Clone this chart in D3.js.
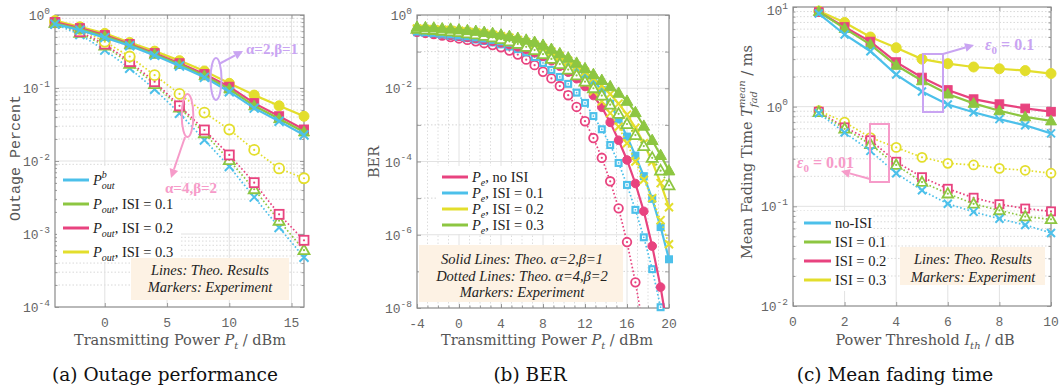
<!DOCTYPE html>
<html>
<head>
<meta charset="utf-8">
<script src="https://cdn.jsdelivr.net/npm/d3@7"></script>
<style>
  body { margin: 0; background: #fff; }
  svg { display: block; }
</style>
</head>
<body>
<svg id="chart" width="1062" height="392"></svg>
<script>
// series colours
const BLUE = "#4cc0ea", GREEN = "#8dc641", PINK = "#e8437f", YELLOW = "#e3de2c";
const NOTE_PURPLE = "#c9a4f2", NOTE_PINK = "#f69bc9";

// ---------- (a) outage performance ----------
const outagePower = [-4, -2, 0, 2, 4, 6, 8, 10, 12, 14, 16];
// solid: alpha=2, beta=1
const outBaseA2 = [0.75, 0.62, 0.49, 0.38, 0.28, 0.20, 0.14, 0.089, 0.053, 0.035, 0.0227];
const outIsi1A2 = [0.77, 0.64, 0.51, 0.39, 0.29, 0.21, 0.147, 0.097, 0.057, 0.038, 0.025];
const outIsi2A2 = [0.80, 0.66, 0.53, 0.40, 0.30, 0.218, 0.155, 0.104, 0.062, 0.041, 0.027];
const outIsi3A2 = [0.84, 0.69, 0.56, 0.42, 0.32, 0.237, 0.171, 0.116, 0.080, 0.057, 0.041];
// dotted: alpha=4, beta=2
const outBaseA4 = [0.75, 0.54, 0.33, 0.186, 0.096, 0.045, 0.0194, 0.0084, 0.0032, 0.00123, 0.00048];
const outIsi1A4 = [0.78, 0.57, 0.38, 0.215, 0.113, 0.054, 0.024, 0.0103, 0.0041, 0.00152, 0.0006];
const outIsi2A4 = [0.785, 0.59, 0.40, 0.23, 0.122, 0.057, 0.0266, 0.0121, 0.00505, 0.00186, 0.00082];
const outIsi3A4 = [0.81, 0.64, 0.43, 0.27, 0.15, 0.083, 0.046, 0.027, 0.0142, 0.0079, 0.0058];

// ---------- (b) BER ----------
const berPower = [-4, -3.2, -2.4, -1.6, -0.8, 0, 0.8, 1.6, 2.4, 3.2, 4, 4.8, 5.6, 6.4, 7.2, 8,
  8.8, 9.6, 10.4, 11.2, 12, 12.8, 13.6, 14.4, 15.2, 16, 16.8, 17.6, 18.4, 19.2, 20];
// solid: alpha=2, beta=1
const berNoIsiA2 = [0.347, 0.331, 0.316, 0.302, 0.282, 0.263, 0.245, 0.229, 0.209, 0.191, 0.174, 0.155,
  0.135, 0.115, 0.0933, 0.0741, 0.0562, 0.0398, 0.0275, 0.0182, 0.0112, 6.31e-3, 3.02e-3, 1.17e-3,
  3.80e-4, 1.10e-4, 2.51e-5, 4.37e-6, 4.90e-7, 3.72e-8, 1.58e-9];
const berIsi1A2 = [0.355, 0.339, 0.324, 0.309, 0.295, 0.275, 0.263, 0.245, 0.229, 0.209, 0.191, 0.174,
  0.155, 0.135, 0.115, 0.0955, 0.0776, 0.0617, 0.0468, 0.0347, 0.0245, 0.0162, 8.91e-3, 3.80e-3,
  1.41e-3, 4.79e-4, 1.45e-4, 3.98e-5, 9.55e-6, 1.62e-6, 2.14e-7];
const berIsi2A2 = [0.427, 0.417, 0.407, 0.398, 0.389, 0.372, 0.355, 0.339, 0.316, 0.288, 0.263, 0.240,
  0.209, 0.182, 0.155, 0.126, 0.100, 0.0759, 0.0562, 0.0407, 0.0282, 0.0186, 0.0117, 6.92e-3,
  3.80e-3, 1.91e-3, 8.32e-4, 3.16e-4, 1.00e-4, 2.57e-5, 5.62e-6];
const berIsi3A2 = [0.468, 0.457, 0.447, 0.427, 0.417, 0.398, 0.380, 0.363, 0.339, 0.316, 0.288, 0.263,
  0.234, 0.209, 0.182, 0.151, 0.117, 0.0891, 0.0676, 0.0490, 0.0347, 0.0240, 0.0166, 0.0112,
  7.41e-3, 4.47e-3, 2.19e-3, 9.33e-4, 3.80e-4, 1.48e-4, 5.62e-5];
// dotted: alpha=4, beta=2
const berNoIsiA4 = [0.347, 0.324, 0.302, 0.275, 0.251, 0.229, 0.209, 0.191, 0.170, 0.151, 0.132, 0.107,
  0.0832, 0.0603, 0.0427, 0.0282, 0.0186, 0.0115, 6.46e-3, 3.09e-3, 1.26e-3, 4.37e-4, 1.26e-4,
  2.88e-5, 5.25e-6, 6.31e-7, 5.01e-8, 2.51e-9, 7.9e-11];
const berIsi1A4 = [0.339, 0.324, 0.309, 0.288, 0.269, 0.251, 0.234, 0.214, 0.195, 0.178, 0.158, 0.138,
  0.117, 0.0955, 0.0708, 0.0490, 0.0316, 0.0204, 0.0132, 7.59e-3, 3.98e-3, 1.74e-3, 7.59e-4,
  2.82e-4, 9.12e-5, 2.29e-5, 4.79e-6, 8.51e-7, 1.15e-7, 1.05e-8, 7.9e-10];
const berIsi2A4 = [0.407, 0.398, 0.389, 0.380, 0.363, 0.347, 0.331, 0.309, 0.288, 0.263, 0.234, 0.209,
  0.178, 0.148, 0.120, 0.0933, 0.0708, 0.0513, 0.0355, 0.0234, 0.0145, 8.32e-3, 4.37e-3, 2.09e-3,
  8.91e-4, 3.16e-4, 1.00e-4, 3.16e-5, 1.00e-5, 2.51e-6, 5.50e-7];
const berIsi3A4 = [0.417, 0.398, 0.389, 0.372, 0.355, 0.339, 0.316, 0.295, 0.269, 0.245, 0.219, 0.191,
  0.162, 0.135, 0.110, 0.0851, 0.0631, 0.0457, 0.0324, 0.0224, 0.0151, 0.0100, 6.31e-3, 3.55e-3,
  2.00e-3, 1.05e-3, 5.25e-4, 2.63e-4, 1.26e-4, 5.62e-5, 2.24e-5];

// ---------- (c) mean fading time ----------
const threshold = [1, 2, 3, 4, 5, 6, 7, 8, 9, 10];
// solid: eps0 = 0.1
const fadeBaseE1 = [8.6, 5.3, 3.6, 2.1, 1.42, 1.05, 0.88, 0.75, 0.65, 0.54];
const fadeIsi1E1 = [9.0, 6.1, 4.2, 2.6, 1.82, 1.34, 1.08, 0.91, 0.79, 0.72];
const fadeIsi2E1 = [8.9, 6.3, 4.5, 2.8, 1.96, 1.47, 1.19, 1.06, 0.96, 0.89];
const fadeIsi3E1 = [9.1, 7.0, 5.0, 3.9, 3.0, 2.7, 2.5, 2.4, 2.3, 2.15];
// dotted: eps0 = 0.01
const fadeBaseE2 = [0.86, 0.55, 0.36, 0.215, 0.145, 0.106, 0.088, 0.075, 0.065, 0.054];
const fadeIsi1E2 = [0.88, 0.60, 0.42, 0.26, 0.175, 0.134, 0.106, 0.091, 0.079, 0.074];
const fadeIsi2E2 = [0.89, 0.62, 0.46, 0.28, 0.196, 0.15, 0.122, 0.105, 0.095, 0.089];
const fadeIsi3E2 = [0.91, 0.70, 0.49, 0.39, 0.31, 0.27, 0.26, 0.24, 0.23, 0.215];

const svg = d3.select("#chart");
const MONO = "'Liberation Mono', 'DejaVu Sans Mono', monospace";
const SERIF = "'Liberation Serif', serif";
const WIDE_SERIF = "'DejaVu Serif', serif";

// frame, grid, ticks and tick labels of one sub-plot
function makePanel(o) {
  const x = d3.scaleLinear().domain(o.xDomain).range([o.left, o.right]);
  const y = d3.scaleLog().domain(o.yDomain).range([o.bottom, o.top]);
  const g = svg.append("g");
  const clipId = "clip-" + o.name;
  svg.append("clipPath").attr("id", clipId).append("rect")
    .attr("x", o.left).attr("y", o.top)
    .attr("width", o.right - o.left).attr("height", o.bottom - o.top);

  const lo = Math.round(Math.log10(o.yDomain[0])), hi = Math.round(Math.log10(o.yDomain[1]));
  const decades = d3.range(lo, hi + 1).map(e => Math.pow(10, e));
  const minors = [];
  if (o.minorY) {
    for (let e = lo; e < hi; e++) for (let k = 2; k < 10; k++) minors.push(k * Math.pow(10, e));
  }

  // grid
  const grid = g.append("g");
  grid.selectAll(".hmin").data(minors).join("line")
    .attr("x1", o.left).attr("x2", o.right).attr("y1", d => y(d)).attr("y2", d => y(d))
    .attr("stroke", "#cfcfcf").attr("stroke-width", 0.8).attr("stroke-dasharray", "1.5,2");
  grid.selectAll(".hmaj").data(decades.slice(1, -1)).join("line")
    .attr("x1", o.left).attr("x2", o.right).attr("y1", d => y(d)).attr("y2", d => y(d))
    .attr("stroke", d => (o.dottedDecade && o.dottedDecade(d)) ? "#d4d4d4" : "#e2e2e2")
    .attr("stroke-width", 1)
    .attr("stroke-dasharray", d => (o.dottedDecade && o.dottedDecade(d)) ? "1.5,2" : null);
  grid.selectAll(".vmin").data(o.xMinorGrid || []).join("line")
    .attr("y1", o.top).attr("y2", o.bottom).attr("x1", d => x(d)).attr("x2", d => x(d))
    .attr("stroke", "#d4d4d4").attr("stroke-width", 0.8).attr("stroke-dasharray", "1.5,2");
  grid.selectAll(".vmaj").data(o.xGrid).join("line")
    .attr("y1", o.top).attr("y2", o.bottom).attr("x1", d => x(d)).attr("x2", d => x(d))
    .attr("stroke", "#e2e2e2").attr("stroke-width", 1);

  // inward ticks on all four sides
  const ax = g.append("g").attr("color", "#8a8a8a");
  ax.append("g").attr("transform", `translate(0,${o.bottom})`)
    .call(d3.axisBottom(x).tickValues(o.xTicks).tickSize(-4).tickFormat(""));
  ax.append("g").attr("transform", `translate(0,${o.top})`)
    .call(d3.axisTop(x).tickValues(o.xTicks).tickSize(-4).tickFormat(""));
  if (o.xMinorTicks) {
    ax.append("g").attr("transform", `translate(0,${o.bottom})`)
      .call(d3.axisBottom(x).tickValues(o.xMinorTicks).tickSize(-2.5).tickFormat(""));
  }
  ax.append("g").attr("transform", `translate(${o.left},0)`)
    .call(d3.axisLeft(y).tickValues(decades).tickSize(-4).tickFormat(""));
  ax.append("g").attr("transform", `translate(${o.right},0)`)
    .call(d3.axisRight(y).tickValues(decades).tickSize(-4).tickFormat(""));
  ax.append("g").attr("transform", `translate(${o.left},0)`)
    .call(d3.axisLeft(y).tickValues(minors).tickSize(-2.5).tickFormat(""));
  ax.append("g").attr("transform", `translate(${o.right},0)`)
    .call(d3.axisRight(y).tickValues(minors).tickSize(-2.5).tickFormat(""));
  ax.selectAll(".domain").remove();
  ax.selectAll("line").attr("stroke-width", 0.8);

  g.append("rect").attr("x", o.left).attr("y", o.top)
    .attr("width", o.right - o.left).attr("height", o.bottom - o.top)
    .attr("fill", "none").attr("stroke", "#8a8a8a").attr("stroke-width", 1.2);

  // tick labels
  g.selectAll(".xl").data(o.xLabels).join("text")
    .attr("x", d => x(d)).attr("y", o.bottom + 20)
    .attr("text-anchor", "middle").attr("font-family", MONO).attr("font-size", 13)
    .attr("fill", "#666").text(d => d);
  const yl = g.selectAll(".yl").data(o.yLabels).join("text")
    .attr("x", o.left - 5).attr("y", d => Math.max(y(d) + 5, 15))
    .attr("text-anchor", "end").attr("font-family", MONO).attr("font-size", 13).attr("fill", "#666");
  yl.append("tspan").text("10");
  yl.append("tspan").attr("dy", -6.5).attr("font-size", 9.5).text(d => String(Math.round(Math.log10(d))));

  const plot = svg.append("g");
  return { x, y, g, plot, clipId, o };
}

function drawMarker(g, kind, cx, cy, color, hollow, s) {
  if (kind === "x") {
    g.append("path")
      .attr("d", `M${cx - s},${cy - s}L${cx + s},${cy + s}M${cx - s},${cy + s}L${cx + s},${cy - s}`)
      .attr("stroke", color).attr("stroke-width", 2).attr("fill", "none");
    return;
  }
  if (kind === "blockSquare") {
    // solid square with a white core: used by the dotted blue series of (b)
    g.append("rect").attr("x", cx - s).attr("y", cy - s).attr("width", 2 * s).attr("height", 2 * s)
      .attr("fill", color);
    if (hollow) {
      g.append("rect").attr("x", cx - s * 0.45).attr("y", cy - s * 0.45)
        .attr("width", s * 0.9).attr("height", s * 0.9).attr("fill", "#fff");
      g.append("circle").attr("cx", cx).attr("cy", cy).attr("r", 0.9).attr("fill", color);
    }
    return;
  }
  let shape;
  if (kind === "circle") {
    shape = g.append("circle").attr("cx", cx).attr("cy", cy).attr("r", s);
  } else if (kind === "square") {
    shape = g.append("rect").attr("x", cx - s * 0.9).attr("y", cy - s * 0.9)
      .attr("width", s * 1.8).attr("height", s * 1.8);
  } else {
    shape = g.append("path")
      .attr("d", `M${cx},${cy - s * 1.15}L${cx + s * 1.1},${cy + s * 0.8}L${cx - s * 1.1},${cy + s * 0.8}Z`);
  }
  if (hollow) {
    shape.attr("fill", "#fff").attr("stroke", color).attr("stroke-width", 1.8);
    g.append("circle").attr("cx", cx).attr("cy", cy).attr("r", 1.1).attr("fill", color);
  } else {
    shape.attr("fill", color).attr("stroke", color).attr("stroke-width", 1);
  }
}

function drawSeries(p, xs, ys, color, kind, dotted, size) {
  const pts = ys.map((v, i) => [xs[i], v]);
  const line = d3.line().x(d => p.x(d[0])).y(d => p.y(d[1]));
  p.plot.append("path").datum(pts)
    .attr("clip-path", `url(#${p.clipId})`)
    .attr("d", line).attr("fill", "none").attr("stroke", color)
    .attr("stroke-width", dotted ? 1.7 : 2.2)
    .attr("stroke-dasharray", dotted ? "1.6,2.2" : null);
  const [ymin, ymax] = p.y.domain();
  const mg = p.plot.append("g");
  pts.filter(d => d[1] >= ymin * 0.97 && d[1] <= ymax)
    .forEach(d => drawMarker(mg, kind, p.x(d[0]), p.y(d[1]), color, dotted, size));
}

// text made of plain / italic / sub / sup pieces
function richText(sel, parts) {
  parts.forEach(pt => {
    const t = sel.append("tspan").text(pt.t);
    if (pt.it) t.attr("font-style", "italic");
    if (pt.size) t.attr("font-size", pt.size);
    if (pt.dy) t.attr("dy", pt.dy);
    if (pt.dx) t.attr("dx", pt.dx);
  });
  return sel;
}

function legend(p, box, lineX, textX, y0, step, fontSize, rows) {
  p.plot.append("rect").attr("x", box[0]).attr("y", box[1]).attr("width", box[2]).attr("height", box[3])
    .attr("fill", "#fff");
  rows.forEach((r, i) => {
    const yy = y0 + i * step;
    p.plot.append("line").attr("x1", lineX[0]).attr("x2", lineX[1]).attr("y1", yy).attr("y2", yy)
      .attr("stroke", r.color).attr("stroke-width", 3);
    const t = p.plot.append("text").attr("x", textX).attr("y", yy + 5)
      .attr("font-family", SERIF).attr("font-size", fontSize).attr("fill", "#222");
    richText(t, r.parts);
  });
}

function noteBox(p, box, lines, cx, y0, step) {
  p.plot.append("rect").attr("x", box[0]).attr("y", box[1]).attr("width", box[2]).attr("height", box[3])
    .attr("fill", "#fdf2e4");
  lines.forEach((ln, i) => {
    p.plot.append("text").attr("x", cx).attr("y", y0 + i * step).attr("text-anchor", "middle")
      .attr("font-family", SERIF).attr("font-style", "italic").attr("font-size", 14.5)
      .attr("fill", "#222").text(ln);
  });
}

function arrow(g, x1, y1, x2, y2, color) {
  const a = Math.atan2(y2 - y1, x2 - x1), L = 9, w = 4.5;
  const bx = x2 - L * Math.cos(a), by = y2 - L * Math.sin(a);
  g.append("line").attr("x1", x1).attr("y1", y1).attr("x2", bx).attr("y2", by)
    .attr("stroke", color).attr("stroke-width", 2);
  g.append("path")
    .attr("d", `M${x2},${y2}L${bx - w * Math.sin(a)},${by + w * Math.cos(a)}L${bx + w * Math.sin(a)},${by - w * Math.cos(a)}Z`)
    .attr("fill", color);
}

// ================= panel (a) =================
const pa = makePanel({
  name: "a", left: 55, right: 304, top: 15, bottom: 307,
  xDomain: [-4, 16], yDomain: [1e-4, 1], minorY: true,
  xGrid: [0, 5, 10, 15], xTicks: [0, 5, 10, 15], xLabels: [0, 5, 10, 15],
  yLabels: [1, 1e-1, 1e-2, 1e-3, 1e-4]
});
drawSeries(pa, outagePower, outBaseA4, BLUE, "x", true, 4.5);
drawSeries(pa, outagePower, outIsi1A4, GREEN, "triangle", true, 5);
drawSeries(pa, outagePower, outIsi2A4, PINK, "square", true, 5);
drawSeries(pa, outagePower, outIsi3A4, YELLOW, "circle", true, 5);
drawSeries(pa, outagePower, outIsi3A2, YELLOW, "circle", false, 5);
drawSeries(pa, outagePower, outIsi2A2, PINK, "square", false, 5);
drawSeries(pa, outagePower, outIsi1A2, GREEN, "triangle", false, 5);
drawSeries(pa, outagePower, outBaseA2, BLUE, "x", false, 4.5);

legend(pa, [57, 166, 124, 96], [63, 89], 93, 180, 24, 14.5, [
  { color: BLUE, parts: [{ t: "P", it: true }, { t: "out", it: true, size: 10, dy: 4 }, { t: "b", it: true, size: 10, dx: -13, dy: -11 }] },
  { color: GREEN, parts: [{ t: "P", it: true }, { t: "out", it: true, size: 10, dy: 4 }, { t: ", ISI = 0.1", dy: -4 }] },
  { color: PINK, parts: [{ t: "P", it: true }, { t: "out", it: true, size: 10, dy: 4 }, { t: ", ISI = 0.2", dy: -4 }] },
  { color: YELLOW, parts: [{ t: "P", it: true }, { t: "out", it: true, size: 10, dy: 4 }, { t: ", ISI = 0.3", dy: -4 }] }
]);
noteBox(pa, [131, 258, 158, 42], ["Lines: Theo. Results", "Markers: Experiment"], 210, 275, 17);

// annotations
pa.plot.append("ellipse").attr("cx", 216).attr("cy", 79).attr("rx", 5.5).attr("ry", 21)
  .attr("fill", "none").attr("stroke", NOTE_PURPLE).attr("stroke-width", 2);
arrow(pa.plot, 219, 64, 243, 51, NOTE_PURPLE);
pa.plot.append("text").attr("x", 246).attr("y", 54).attr("font-family", SERIF).attr("font-weight", "bold")
  .attr("font-size", 15).attr("fill", NOTE_PURPLE).text("α=2,β=1");
pa.plot.append("ellipse").attr("cx", 187.5).attr("cy", 115.5).attr("rx", 5.8).attr("ry", 21.5)
  .attr("fill", "none").attr("stroke", NOTE_PINK).attr("stroke-width", 2);
arrow(pa.plot, 185, 137, 171, 178, NOTE_PINK);
pa.plot.append("text").attr("x", 165).attr("y", 193).attr("font-family", SERIF).attr("font-weight", "bold")
  .attr("font-size", 15).attr("fill", NOTE_PINK).text("α=4,β=2");

// axis titles
svg.append("text").attr("transform", "translate(20,158) rotate(-90)").attr("text-anchor", "middle")
  .attr("font-family", MONO).attr("font-size", 15).attr("fill", "#555").text("Outage Percent");
richText(svg.append("text").attr("x", 180).attr("y", 345).attr("text-anchor", "middle")
  .attr("font-family", WIDE_SERIF).attr("font-size", 14.5).attr("fill", "#555"),
  [{ t: "Transmitting Power " }, { t: "P", it: true }, { t: "t", it: true, size: 10, dy: 4 }, { t: " / dBm", dy: -4 }]);

// ================= panel (b) =================
const pb = makePanel({
  name: "b", left: 417, right: 669, top: 15, bottom: 308,
  xDomain: [-4, 20], yDomain: [1e-8, 1], minorY: false,
  dottedDecade: d => Math.round(Math.log10(d)) % 2 !== 0,
  xGrid: [0, 4, 8, 12, 16], xTicks: [-4, 0, 4, 8, 12, 16, 20], xLabels: [-4, 0, 4, 8, 12, 16, 20],
  xMinorGrid: d3.range(-3, 20).filter(v => v % 4 !== 0),
  xMinorTicks: d3.range(-3, 20),
  yLabels: [1, 1e-2, 1e-4, 1e-6, 1e-8]
});
drawSeries(pb, berPower, berNoIsiA4, PINK, "circle", true, 4.3);
drawSeries(pb, berPower, berIsi1A4, BLUE, "blockSquare", true, 4);
drawSeries(pb, berPower, berNoIsiA2, PINK, "circle", false, 4.3);
drawSeries(pb, berPower, berIsi1A2, BLUE, "blockSquare", false, 4);
drawSeries(pb, berPower, berIsi2A4, YELLOW, "x", true, 4);
drawSeries(pb, berPower, berIsi2A2, YELLOW, "x", false, 4);
drawSeries(pb, berPower, berIsi3A4, GREEN, "triangle", true, 5);
drawSeries(pb, berPower, berIsi3A2, GREEN, "triangle", false, 5.3);

legend(pb, [436, 166, 128, 68], [442, 468], 472, 177, 16, 14.5, [
  { color: PINK, parts: [{ t: "P", it: true }, { t: "e", it: true, size: 10, dy: 4 }, { t: ", no ISI", dy: -4 }] },
  { color: BLUE, parts: [{ t: "P", it: true }, { t: "e", it: true, size: 10, dy: 4 }, { t: ", ISI = 0.1", dy: -4 }] },
  { color: YELLOW, parts: [{ t: "P", it: true }, { t: "e", it: true, size: 10, dy: 4 }, { t: ", ISI = 0.2", dy: -4 }] },
  { color: GREEN, parts: [{ t: "P", it: true }, { t: "e", it: true, size: 10, dy: 4 }, { t: ", ISI = 0.3", dy: -4 }] }
]);
noteBox(pb, [419, 245, 204, 57],
  ["Solid Lines: Theo. α=2,β=1", "Dotted Lines: Theo. α=4,β=2", "Markers:  Experiment"], 522, 264, 16.5);

svg.append("text").attr("transform", "translate(379,162) rotate(-90)").attr("text-anchor", "middle")
  .attr("font-family", WIDE_SERIF).attr("font-size", 14.5).attr("fill", "#555").text("BER");
richText(svg.append("text").attr("x", 547).attr("y", 345).attr("text-anchor", "middle")
  .attr("font-family", WIDE_SERIF).attr("font-size", 14.5).attr("fill", "#555"),
  [{ t: "Transmitting Power " }, { t: "P", it: true }, { t: "t", it: true, size: 10, dy: 4 }, { t: " / dBm", dy: -4 }]);

// ================= panel (c) =================
const pc = makePanel({
  name: "c", left: 793, right: 1051, top: 7, bottom: 306,
  xDomain: [0, 10], yDomain: [1e-2, 10], minorY: true,
  xGrid: [2, 4, 6, 8], xTicks: [0, 2, 4, 6, 8, 10], xLabels: [0, 2, 4, 6, 8, 10],
  yLabels: [10, 1, 1e-1, 1e-2]
});
drawSeries(pc, threshold, fadeIsi3E2, YELLOW, "circle", true, 4.5);
drawSeries(pc, threshold, fadeIsi2E2, PINK, "square", true, 4.5);
drawSeries(pc, threshold, fadeIsi1E2, GREEN, "triangle", true, 4.8);
drawSeries(pc, threshold, fadeBaseE2, BLUE, "x", true, 4);
drawSeries(pc, threshold, fadeIsi3E1, YELLOW, "circle", false, 5);
drawSeries(pc, threshold, fadeIsi2E1, PINK, "square", false, 4.8);
drawSeries(pc, threshold, fadeIsi1E1, GREEN, "triangle", false, 5);
drawSeries(pc, threshold, fadeBaseE1, BLUE, "x", false, 4);

legend(pc, [797, 211, 76, 80], [804, 831], 835, 223, 19, 14.5, [
  { color: BLUE, parts: [{ t: "no-ISI" }] },
  { color: GREEN, parts: [{ t: "ISI = 0.1" }] },
  { color: PINK, parts: [{ t: "ISI = 0.2" }] },
  { color: YELLOW, parts: [{ t: "ISI = 0.3" }] }
]);
noteBox(pc, [900, 247, 145, 38], ["Lines: Theo. Results", "Markers: Experiment"], 973, 264, 18);

pc.plot.append("rect").attr("x", 923).attr("y", 54).attr("width", 20).attr("height", 58)
  .attr("fill", "none").attr("stroke", NOTE_PURPLE).attr("stroke-width", 2);
arrow(pc.plot, 943, 54, 974, 45, NOTE_PURPLE);
richText(pc.plot.append("text").attr("x", 985).attr("y", 50).attr("font-family", SERIF)
  .attr("font-weight", "bold").attr("font-size", 16).attr("fill", NOTE_PURPLE),
  [{ t: "ε", it: true }, { t: "0", size: 11, dy: 4 }, { t: " = 0.1", dy: -4 }]);
pc.plot.append("rect").attr("x", 870).attr("y", 124).attr("width", 19).attr("height", 58)
  .attr("fill", "none").attr("stroke", NOTE_PINK).attr("stroke-width", 2);
arrow(pc.plot, 870, 179, 841, 171, NOTE_PINK);
richText(pc.plot.append("text").attr("x", 854).attr("y", 168).attr("text-anchor", "end")
  .attr("font-family", SERIF).attr("font-weight", "bold").attr("font-size", 16).attr("fill", NOTE_PINK),
  [{ t: "ε", it: true }, { t: "0", size: 11, dy: 4 }, { t: " = 0.01", dy: -4 }]);

richText(svg.append("text").attr("transform", "translate(752,152) rotate(-90)").attr("text-anchor", "middle")
  .attr("font-family", WIDE_SERIF).attr("font-size", 14.5).attr("fill", "#555"),
  [{ t: "Mean Fading Time " }, { t: "T", it: true }, { t: "fad", it: true, size: 10, dy: 5 },
   { t: "mean", it: true, size: 10, dx: -17, dy: -12 }, { t: " / ms", dy: 7 }]);
richText(svg.append("text").attr("x", 925).attr("y", 345).attr("text-anchor", "middle")
  .attr("font-family", WIDE_SERIF).attr("font-size", 14.5).attr("fill", "#555"),
  [{ t: "Power Threshold " }, { t: "I", it: true }, { t: "th", it: true, size: 10, dy: 4 }, { t: " / dB", dy: -4 }]);

// captions
const captions = [["(a) Outage performance", 165], ["(b) BER", 530], ["(c) Mean fading time", 895]];
svg.selectAll(".cap").data(captions).join("text")
  .attr("x", d => d[1]).attr("y", 381).attr("text-anchor", "middle")
  .attr("font-family", WIDE_SERIF).attr("font-size", 18.5).attr("fill", "#111").text(d => d[0]);
</script>
</body>
</html>
